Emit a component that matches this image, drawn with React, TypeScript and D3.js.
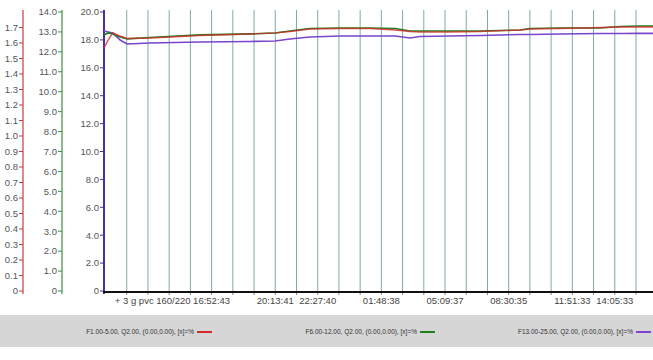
import React from 'react';
import * as d3 from 'd3';

// sample times: [day, "HH:MM"]
const sampleTimes: [number, string][] = [
  [0, '11:13'], [0, '11:26'], [0, '11:41'], [0, '12:04'], [0, '12:26'],
  [0, '13:38'], [0, '16:16'], [0, '18:54'], [0, '20:13'], [0, '21:00'],
  [0, '22:03'], [0, '23:38'], [1, '01:13'], [1, '02:32'], [1, '03:19'],
  [1, '03:50'], [1, '05:25'], [1, '07:00'], [1, '09:06'], [1, '09:38'],
  [1, '11:12'], [1, '13:19'], [1, '14:22'], [1, '15:25'], [1, '16:09'],
];

// F1.00-5.00 (red axis, 0-1.8)
const lowBand = [
  1.568, 1.619, 1.665, 1.645, 1.629, 1.632, 1.648, 1.658, 1.665, 1.674,
  1.690, 1.694, 1.694, 1.684, 1.674, 1.671, 1.671, 1.674, 1.684, 1.690,
  1.694, 1.700, 1.703, 1.703, 1.703,
];
// F6.00-12.00 (green axis, 0-14)
const midBand = [
  12.85, 12.95, 12.90, 12.75, 12.65, 12.72, 12.85, 12.90, 12.95, 13.05,
  13.17, 13.20, 13.20, 13.17, 13.05, 13.05, 13.05, 13.05, 13.10, 13.17,
  13.20, 13.20, 13.27, 13.30, 13.30,
];
// F13.00-25.00 (blue axis, 0-20)
const highBand = [
  18.64, 18.57, 18.49, 17.99, 17.71, 17.78, 17.85, 17.89, 17.92, 18.06,
  18.21, 18.28, 18.28, 18.28, 18.14, 18.24, 18.28, 18.32, 18.39, 18.39,
  18.42, 18.46, 18.46, 18.47, 18.47,
];

const seriesNames = [
  'F1.00-5.00, Q2.00, (0.00,0.00), [x]=%',
  'F6.00-12.00, Q2.00, (0.00,0.00), [x]=%',
  'F13.00-25.00, Q2.00, (0.00,0.00), [x]=%',
];
const seriesColors = ['#d42a2a', '#1f7f1f', '#7a45cc'];

const redTicks = d3.range(0, 18).map((i) => i / 10);
const greenTicks = d3.range(0, 15);
const blueTicks = d3.range(0, 21, 2);

// gridlines every 1:06:59.33, labels on some of them
const gridStart: [number, string] = [0, '12:24:46'];
const gridStepSec = 4019.33;
const gridCount = 25;
const labelGridIdx = [4, 7, 9, 12, 15, 18, 21, 23];
const labelTexts = ['16:52:43', '20:13:41', '22:27:40', '01:48:38', '05:09:37', '08:30:35', '11:51:33', '14:05:33'];
const labelPrefix = '+ 3 g pvc 160/220';

const toDate = ([day, hm]: [number, string]) => {
  const [h, m, s] = hm.split(':').map(Number);
  return new Date(2020, 0, 1 + day, h, m, s || 0);
};

const W = 653;
const H = 360;
const top = 12;
const bottom = 291;
const font = '"Liberation Sans", Arial, sans-serif';

export default function App() {
  const x = d3.scaleTime()
    .domain([toDate([0, '11:13:00']), toDate([1, '16:09:20'])])
    .range([104, 654]);
  const yRed = d3.scaleLinear().domain([0, 1.8]).range([bottom, top]);
  const yGreen = d3.scaleLinear().domain([0, 14]).range([bottom, top]);
  const yBlue = d3.scaleLinear().domain([0, 20]).range([bottom, top]);

  const dates = sampleTimes.map(toDate);
  const mk = (vals: number[], y: d3.ScaleLinear<number, number>) =>
    d3.line<number>().x((_, i) => x(dates[i])).y((d) => y(d))(vals) || '';

  const g0 = toDate(gridStart).getTime();
  const gridDates = d3.range(gridCount).map((i) => new Date(g0 + i * gridStepSec * 1000));

  const fmt = (v: number, digits: number) => (v === 0 ? '0' : v.toFixed(digits));

  const axis = (
    ax: number, ticks: number[], y: d3.ScaleLinear<number, number>,
    color: string, digits: number, sw: number,
  ) => (
    <g>
      <line x1={ax} x2={ax} y1={top - 2} y2={bottom + 3} stroke={color} strokeWidth={sw} />
      {ticks.map((t) => (
        <g key={t}>
          <line x1={ax - 4} x2={ax} y1={y(t)} y2={y(t)} stroke={color} />
          <text x={ax - 5} y={y(t)} dy="0.35em" textAnchor="end" fontSize={9.5} fill="#555">
            {fmt(t, digits)}
          </text>
        </g>
      ))}
    </g>
  );

  const legendEnds = [212, 435, 651];

  return (
    <svg width={W} height={H} style={{ position: 'fixed', left: 0, top: 0, background: '#fff' }} fontFamily={font}>
      {gridDates.map((d, i) => (
        <g key={i}>
          <line x1={x(d)} x2={x(d)} y1={top - 2} y2={bottom} stroke="#7eaaaa" strokeWidth={1} />
          <line x1={x(d)} x2={x(d)} y1={bottom} y2={bottom + 4} stroke="#888" strokeWidth={1} />
        </g>
      ))}

      {axis(23, redTicks, yRed, '#c83c3c', 1, 1.2)}
      {axis(62, greenTicks, yGreen, '#3f8f3f', 1, 1.2)}
      {axis(104, blueTicks, yBlue, '#4a2fa0', 1, 2)}

      <line x1={103} x2={W} y1={bottom + 1} y2={bottom + 1} stroke="#111" strokeWidth={2} />

      <path d={mk(highBand, yBlue)} fill="none" stroke={seriesColors[2]} strokeWidth={1.6} />
      <path d={mk(midBand, yGreen)} fill="none" stroke={seriesColors[1]} strokeWidth={1.6} />
      <path d={mk(lowBand, yRed)} fill="none" stroke={seriesColors[0]} strokeWidth={1.4} strokeOpacity={0.8} />

      {labelGridIdx.map((gi, i) => (
        <text key={gi} x={x(gridDates[gi])} y={304} textAnchor="middle" fontSize={9.5} fill="#444">
          {labelTexts[i]}
        </text>
      ))}
      <text x={x(gridDates[labelGridIdx[0]]) - 21} y={304} textAnchor="end" fontSize={9.5} fill="#444">
        {labelPrefix}
      </text>

      <rect x={0} y={315} width={W} height={32} fill="#d6d6d6" />
      {seriesNames.map((n, i) => (
        <g key={n}>
          <text x={legendEnds[i] - 18} y={334} textAnchor="end" fontSize={6.5} fill="#333">{n}</text>
          <line x1={legendEnds[i] - 15} x2={legendEnds[i]} y1={332} y2={332} stroke={seriesColors[i]} strokeWidth={2} />
        </g>
      ))}
    </svg>
  );
}
